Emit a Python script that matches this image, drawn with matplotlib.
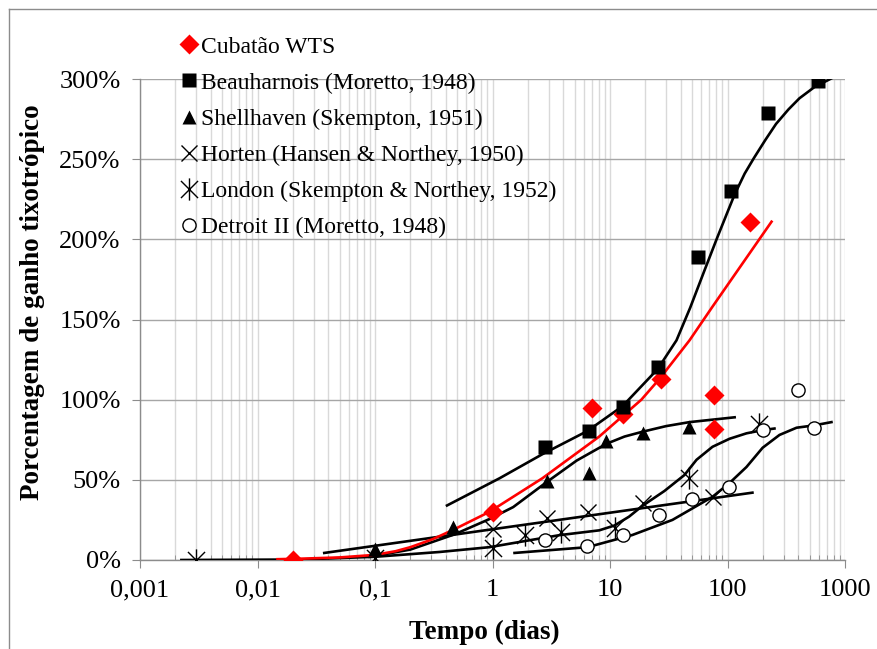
import matplotlib
matplotlib.use('Agg')
import matplotlib.pyplot as plt
from matplotlib.path import Path
from matplotlib.ticker import FixedLocator, LogLocator, NullFormatter

# pontos medidos (tempo em dias, ganho em %)
cub_t = [0.02, 1, 7, 13, 27, 77, 77, 154]
cub_g = [0, 30, 95, 91, 113, 103, 82, 211]
beau_t = [2.8, 6.6, 12.8, 25.4, 56, 108, 219, 594]
beau_g = [70.6, 80.6, 95.6, 120.6, 189, 230, 279, 298.7]
shell_t = [0.1, 0.46, 2.9, 6.6, 9.3, 19, 47]
shell_g = [7, 20.6, 49.5, 54.5, 74.4, 79.4, 83]
hort_t = [1, 2.9, 6.5, 19, 75]
hort_g = [19.5, 26, 30, 35.6, 39.4]
lond_t = [0.003, 0.1, 1, 1.9, 3.8, 11, 47, 185]
lond_g = [0, 1, 7.5, 15.5, 17.5, 20, 51, 85]
detr_t = [2.8, 6.4, 12.8, 26, 50, 102, 202, 400, 550]
detr_g = [12.5, 8.7, 15.6, 28, 38, 45.6, 81, 106, 82.5]

# linhas de tendencia
cub_fit_t = [0.0148, 0.0228, 0.05, 0.1, 0.15, 0.2, 0.31, 0.46, 0.94, 2.66, 8.1, 18.5, 26.4, 47.5, 74.5, 237]
cub_fit_g = [0.5, 0.8, 1.6, 3.2, 5.5, 8, 13, 18.7, 30, 51, 77, 100, 113, 137, 158, 211]
beau_fit_t = [0.41, 1.15, 2.66, 6.44, 12.8, 25.4, 36.8, 48.1, 64, 81.7, 100, 115, 140, 167.5,
              210, 259, 330, 410, 550, 767]
beau_fit_g = [34, 51, 66, 80.5, 96, 119, 137, 157.3, 181, 201, 217, 228, 241, 250.6,
              262, 272, 281, 288, 295, 300.4]
shell_fit_t = [0.09, 0.2, 0.475, 0.94, 1.5, 2.88, 5.2, 9.34, 13.3, 18.9, 30, 47.5, 115]
shell_fit_g = [2, 6.5, 16, 25.5, 33, 48.5, 62, 72.5, 77, 80, 83.5, 86, 89]
hort_fit_t = [0.037, 1.15, 163]
hort_fit_g = [4.4, 19.8, 42]
lond_fit_t = [0.00225, 0.0228, 0.1, 0.354, 0.943, 1.95, 3.72, 8.1, 10.9, 14.5, 18.9, 29, 43, 54.5,
              74.5, 104, 145, 199, 251]
lond_fit_g = [0, 0.3, 2, 5, 8, 12, 15.5, 18.5, 21.5, 27, 33.8, 43, 53, 62.5, 70.6, 75.6, 79, 81, 82]
detr_fit_t = [1.54, 6.44, 15.5, 34, 74.5, 104, 145, 199, 277, 387, 550, 767]
detr_fit_g = [4.4, 8, 15.6, 25, 39.4, 48, 58, 70, 78, 82.5, 84, 86]

xticks = [0.001, 0.01, 0.1, 1, 10, 100, 1000]
xlabels = ['0,001', '0,01', '0,1', '1', '10', '100', '1000']
yticks = [0, 50, 100, 150, 200, 250, 300]
ylabels = ['0%', '50%', '100%', '150%', '200%', '250%', '300%']

plt.rcParams['font.family'] = ['Liberation Serif', 'DejaVu Serif']

fig = plt.figure(figsize=(8.77, 6.49), dpi=100)
ax = fig.add_axes([140/877, 1-560/649, 705/877, 481/649])

asterisk = Path([(-1, -1), (1, 1), (-1, 1), (1, -1), (0, -1.3), (0, 1.3)],
                [Path.MOVETO, Path.LINETO, Path.MOVETO, Path.LINETO, Path.MOVETO, Path.LINETO])

ax.plot(cub_t, cub_g, 'D', color='#ff0000', ms=10.5, mec='none', label='Cubatão WTS', zorder=5)
ax.plot(beau_t, beau_g, 's', color='black', ms=10, mec='none', label='Beauharnois (Moretto, 1948)', zorder=5)
ax.plot(shell_t, shell_g, '^', color='black', ms=10, mec='none', label='Shellhaven (Skempton, 1951)', zorder=5)
ax.plot(hort_t, hort_g, 'x', color='black', ms=12, mew=1, label='Horten (Hansen & Northey, 1950)', zorder=5)
ax.plot(lond_t, lond_g, marker=asterisk, ls='none', color='black', ms=16, mew=1,
        label='London (Skempton & Northey, 1952)', zorder=5)
ax.plot(detr_t, detr_g, 'o', mfc='white', mec='black', ms=9.5, mew=1,
        label='Detroit II (Moretto, 1948)', zorder=5)

ax.plot(beau_fit_t, beau_fit_g, color='black', lw=1.9, zorder=4)
ax.plot(shell_fit_t, shell_fit_g, color='black', lw=1.9, zorder=4)
ax.plot(hort_fit_t, hort_fit_g, color='black', lw=1.9, zorder=4)
ax.plot(lond_fit_t, lond_fit_g, color='black', lw=1.9, zorder=4)
ax.plot(detr_fit_t, detr_fit_g, color='black', lw=1.9, zorder=4)
ax.plot(cub_fit_t, cub_fit_g, color='#ff0000', lw=1.9, zorder=4)

ax.set_xscale('log')
ax.set_xlim(0.001, 1000)
ax.set_ylim(0, 300)
ax.xaxis.set_major_locator(FixedLocator(xticks))
ax.set_xticklabels(xlabels)
ax.xaxis.set_minor_locator(LogLocator(base=10, subs=range(2, 10), numticks=20))
ax.xaxis.set_minor_formatter(NullFormatter())
ax.set_yticks(yticks)
ax.set_yticklabels(ylabels)

ax.grid(True, which='both', axis='x', color='#d9d9d9', lw=1)
ax.grid(True, which='major', axis='y', color='#a6a6a6', lw=1)
ax.set_axisbelow(True)

for s in ['top', 'right']:
    ax.spines[s].set_visible(False)
for s in ['left', 'bottom']:
    ax.spines[s].set_color('#8c8c8c')
    ax.spines[s].set_linewidth(1)

ax.tick_params(axis='both', which='major', direction='out', length=6, color='#8c8c8c',
               labelsize=19, pad=8)
ax.tick_params(axis='x', which='minor', direction='in', length=3.5, color='#8c8c8c')

ax.set_xlabel('Tempo (dias)', fontsize=19.5, fontweight='bold')
ax.xaxis.set_label_coords(0.489, -0.15)
ax.xaxis.label.set_va('center')
ax.set_ylabel('Porcentagem de ganho tixotrópico', fontsize=19.5, fontweight='bold')
ax.yaxis.set_label_coords(-0.135, 0.535)

leg = ax.legend(loc='upper left', bbox_to_anchor=(180/877, 1-36/649), bbox_transform=fig.transFigure,
                frameon=False, fontsize=17, handlelength=0.8, handletextpad=0.1,
                labelspacing=0.62, borderaxespad=0, borderpad=0)

# moldura da area do grafico
fig.add_artist(plt.Line2D([9/877, 9/877], [0, 1-9/649], transform=fig.transFigure, color='#8c8c8c', lw=1))
fig.add_artist(plt.Line2D([9/877, 1], [1-9/649, 1-9/649], transform=fig.transFigure, color='#8c8c8c', lw=1))

fig.savefig('out.png', dpi=100)
